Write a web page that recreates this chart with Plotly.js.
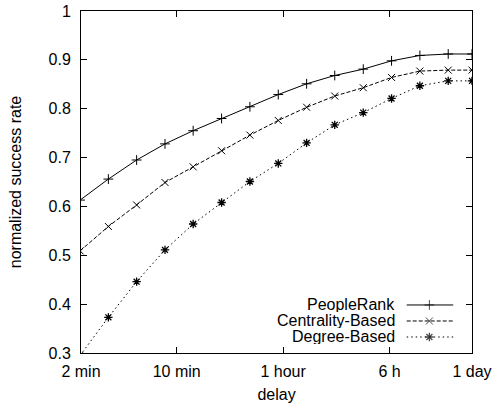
<!DOCTYPE html>
<html>
<head>
<meta charset="utf-8">
<script src="https://cdn.plot.ly/plotly-3.0.1.min.js"></script>
<style>html,body{margin:0;padding:0;background:#fff;}#chart{width:492px;height:405px;}</style>
</head>
<body>
<div id="chart"></div>
<script>
// delay in minutes
var delayMinutes = [1.97, 3.17, 5.10, 8.22, 13.2, 21.3, 34.3, 55.3, 89.1, 143, 231, 372, 599, 965, 1440];
var peopleRank = [0.613, 0.656, 0.695, 0.728, 0.755, 0.780, 0.804, 0.829, 0.851, 0.868, 0.881, 0.898, 0.909, 0.912, 0.912];
var centralityBased = [0.509, 0.559, 0.603, 0.649, 0.681, 0.714, 0.746, 0.776, 0.803, 0.826, 0.843, 0.864, 0.877, 0.879, 0.879];
var degreeBased = [0.295, 0.373, 0.446, 0.511, 0.564, 0.608, 0.651, 0.688, 0.730, 0.767, 0.792, 0.821, 0.847, 0.857, 0.857];

var seriesNames = ["PeopleRank", "Centrality-Based", "Degree-Based"];
var xTickVals = [2, 10, 60, 360, 1440];
var xTickText = ["2 min", "10 min", "1 hour", "6 h", "1 day"];
var yTickVals = [0.3, 0.4, 0.5, 0.6, 0.7, 0.8, 0.9, 1];
var yTickText = ["0.3", "0.4", "0.5", "0.6", "0.7", "0.8", "0.9", "1"];

var styles = [
  {dash: "solid", symbol: "cross-thin-open", size: 7, lw: 1},
  {dash: "4px,2px", symbol: "x-thin-open", size: 7, lw: 1},
  {dash: "1.5px,3px", symbol: "asterisk-open", size: 7, lw: 1.3}
];
var values = [peopleRank, centralityBased, degreeBased];

var traces = [];
values.forEach(function (v, i) {
  traces.push({
    x: delayMinutes, y: v, type: "scatter", mode: "lines+markers",
    name: seriesNames[i], showlegend: false, cliponaxis: true,
    line: {color: "#000", width: 1, dash: styles[i].dash},
    marker: {symbol: styles[i].symbol, size: styles[i].size, color: "#000",
             line: {color: "#000", width: styles[i].lw}}
  });
});

// gnuplot-style key (label right-aligned, sample on its right) on a hidden overlay axis
var legendRows = [0.1404, 0.0936, 0.0468];
var legendX = [0.833, 0.891, 0.952];
values.forEach(function (v, i) {
  traces.push({
    x: legendX, y: [legendRows[i], legendRows[i], legendRows[i]],
    xaxis: "x2", yaxis: "y2", type: "scatter", mode: "lines+markers",
    showlegend: false, hoverinfo: "skip",
    line: {color: "#000", width: 1, dash: styles[i].dash},
    marker: {symbol: styles[i].symbol, size: [0, styles[i].size, 0], color: "#000",
             line: {color: "#000", width: styles[i].lw}}
  });
});

var font = {family: "Liberation Sans, Arial, sans-serif", size: 16, color: "#000"};
var annotations = seriesNames.map(function (n, i) {
  return {text: n, xref: "paper", yref: "paper", x: 0.806, y: legendRows[i],
          xanchor: "right", yanchor: "middle", showarrow: false, font: font,
          height: 15, valign: "middle", borderpad: 0};
});

var layout = {
  width: 492, height: 405,
  margin: {l: 81, r: 20, t: 11, b: 52},
  paper_bgcolor: "#fff", plot_bgcolor: "#fff",
  font: font,
  showlegend: false,
  xaxis: {
    type: "log", range: [Math.log10(2), Math.log10(1440)],
    tickvals: xTickVals, ticktext: xTickText,
    ticks: "inside", ticklen: 6, tickcolor: "#000", tickwidth: 1,
    showline: true, linecolor: "#000", linewidth: 1, mirror: "ticks",
    showgrid: false, zeroline: false, ticklabelstandoff: 4,
    title: {text: "delay", font: font, standoff: 9}
  },
  yaxis: {
    range: [0.3, 1],
    tickvals: yTickVals, ticktext: yTickText,
    ticks: "inside", ticklen: 6, tickcolor: "#000", tickwidth: 1,
    showline: true, linecolor: "#000", linewidth: 1, mirror: "ticks",
    showgrid: false, zeroline: false, ticklabelstandoff: 6,
    title: {text: "normalized success rate", font: font, standoff: 22}
  },
  xaxis2: {overlaying: "x", range: [0, 1], visible: false, fixedrange: true},
  yaxis2: {overlaying: "y", range: [0, 1], visible: false, fixedrange: true},
  annotations: annotations
};

Plotly.newPlot("chart", traces, layout, {displayModeBar: false, staticPlot: true});
</script>
</body>
</html>
